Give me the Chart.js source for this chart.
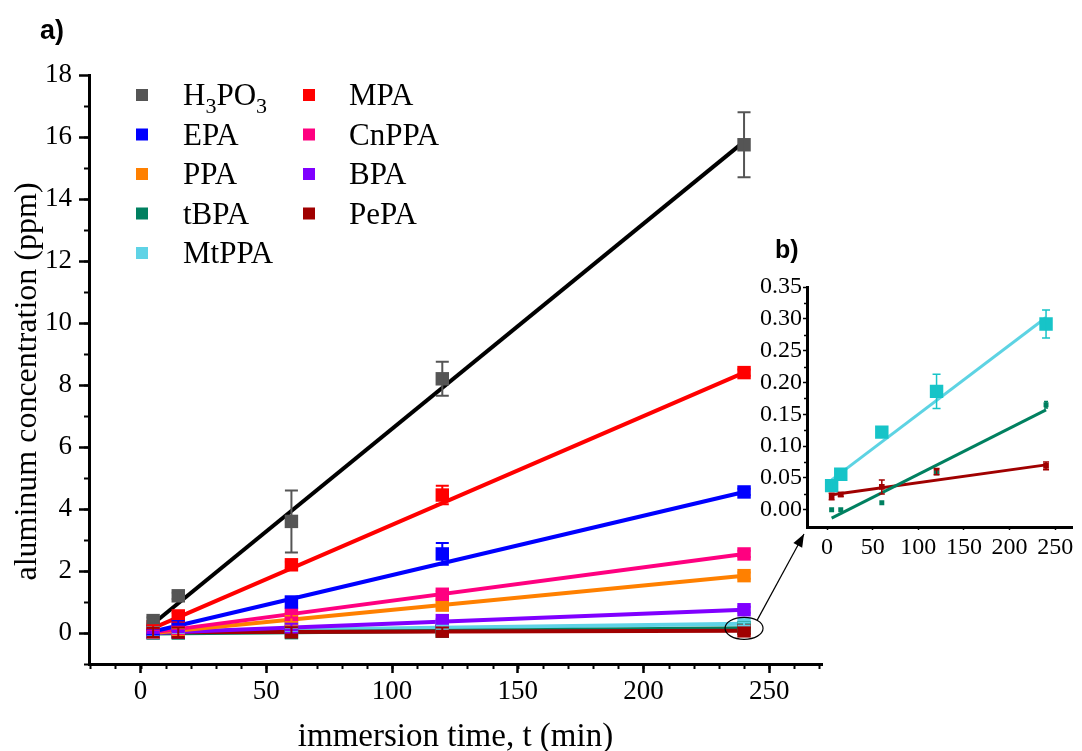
<!DOCTYPE html>
<html><head><meta charset="utf-8">
<script src="https://cdn.jsdelivr.net/npm/chart.js@4/dist/chart.umd.min.js"></script>
<style>
html,body{margin:0;padding:0;background:#fff;}
#wrap{position:relative;width:1082px;height:751px;overflow:hidden;}
#main{position:absolute;left:0;top:0;}
#inset{position:absolute;left:740px;top:225px;}
</style></head><body>
<div id="wrap"><canvas id="main" width="1082" height="751"></canvas><canvas id="inset" width="342" height="345"></canvas></div>
<script>
// ---------------- DATA ----------------
const times = [5, 15, 60, 120, 240];
// legend order: first column top to bottom, then second column
const seriesNames = ['H3PO3', 'EPA', 'PPA', 'tBPA', 'MtPPA', 'MPA', 'CnPPA', 'BPA', 'PePA'];

const valH3PO3 = [0.4, 1.2, 3.6, 8.2, 15.75];
const valMPA   = [0.2, 0.55, 2.2, 4.45, 8.4];
const valEPA   = [0.05, 0.25, 1.0, 2.55, 4.55];
const valCnPPA = [0.05, 0.15, 0.6, 1.25, 2.55];
const valPPA   = [0.03, 0.1, 0.45, 0.9, 1.85];
const valBPA   = [0.02, 0.05, 0.2, 0.4, 0.75];
const valTBPA  = [0.0, 0.0, 0.011, 0.058, 0.165];
const valMtPPA = [0.038, 0.056, 0.122, 0.186, 0.292];
const valPePA  = [0.021, 0.024, 0.036, 0.06, 0.069];

// error bars, panel a)
const errH3PO3 = [0.1, 0.1, 1.0, 0.55, 1.05];
const errMPA   = [0.05, 0.1, 0.1, 0.3, 0.1];
const errEPA   = [0.05, 0.15, 0.15, 0.35, 0.1];
const errCnPPA = [0.02, 0.05, 0.1, 0.1, 0.1];
const errPPA   = [0.02, 0.05, 0.1, 0.1, 0.1];
const errBPA   = [0.02, 0.02, 0.1, 0.05, 0.1];
const errTBPA  = [0, 0, 0, 0, 0];
const errMtPPA = [0.15, 0.05, 0.05, 0.05, 0.05];
const errPePA  = [0.15, 0.15, 0.15, 0.12, 0.1];

// error bars, panel b)
const errMtPPAb = [0.006, 0.005, 0.006, 0.027, 0.022];
const errTBPAb  = [0, 0, 0, 0, 0.005];
const errPePAb  = [0.005, 0.003, 0.011, 0.005, 0.006];

// linear fit lines (value at first and last fit time)
const fitTimes  = [5, 240];
const fitH3PO3 = [0.3, 15.85];
const fitMPA   = [0.16, 8.4];
const fitEPA   = [0.05, 4.55];
const fitCnPPA = [0.02, 2.55];
const fitPPA   = [0.0, 1.85];
const fitBPA   = [0.0, 0.75];
const fitTBPA  = [-0.013, 0.157];
const fitMtPPA = [0.047, 0.302];
const fitPePA  = [0.0235, 0.0706];

// tick labels
const xTicks = [0, 50, 100, 150, 200, 250];
const yTicks = [0, 2, 4, 6, 8, 10, 12, 14, 16, 18];
const insetXTicks = [0, 50, 100, 150, 200, 250];
const insetYTicks = [0, 0.05, 0.10, 0.15, 0.20, 0.25, 0.30, 0.35];
const insetYLabels = ['0.00', '0.05', '0.10', '0.15', '0.20', '0.25', '0.30', '0.35'];

// ---------------- STYLE ----------------
const SERIF = "'Liberation Serif','Times New Roman',serif";
const SANS = "'Liberation Sans',Arial,sans-serif";
Chart.defaults.font.family = SERIF;
Chart.defaults.color = '#000';
const markerColor = {H3PO3:'#555555', MPA:'#ff0000', EPA:'#0000ff', CnPPA:'#ff0080', PPA:'#ff8000', BPA:'#8000ff', tBPA:'#008060', MtPPA:'#5fd3e6', PePA:'#a00000'};
const lineColor   = {H3PO3:'#000000', MPA:'#ff0000', EPA:'#0000ff', CnPPA:'#ff0080', PPA:'#ff8000', BPA:'#8000ff', tBPA:'#008060', MtPPA:'#5fd3e6', PePA:'#a00000'};
const insetMarkerColor = {tBPA:'#008060', MtPPA:'#17c4c8', PePA:'#a00000'};
const insetLineColor = {tBPA:'#008060', MtPPA:'#5dd3e3', PePA:'#a00000'};
const drawRank = {MtPPA:0, tBPA:1, PePA:2, BPA:3, PPA:4, CnPPA:5, EPA:6, MPA:7, H3PO3:8};

const vals = {H3PO3:valH3PO3, MPA:valMPA, EPA:valEPA, CnPPA:valCnPPA, PPA:valPPA, BPA:valBPA, tBPA:valTBPA, MtPPA:valMtPPA, PePA:valPePA};
const errs = {H3PO3:errH3PO3, MPA:errMPA, EPA:errEPA, CnPPA:errCnPPA, PPA:errPPA, BPA:errBPA, tBPA:errTBPA, MtPPA:errMtPPA, PePA:errPePA};
const fits = {H3PO3:fitH3PO3, MPA:fitMPA, EPA:fitEPA, CnPPA:fitCnPPA, PPA:fitPPA, BPA:fitBPA, tBPA:fitTBPA, MtPPA:fitMtPPA, PePA:fitPePA};

// ---------------- PLUGINS ----------------
const minorTicks = {
  id: 'minorTicks',
  afterDraw(chart, args, opts) {
    const ctx = chart.ctx, ca = chart.chartArea;
    ctx.save();
    ctx.strokeStyle = '#000';
    (opts.list || []).forEach(m => {
      const s = chart.scales[m.axis];
      ctx.lineWidth = m.width;
      const n = Math.round((m.to - m.from) / m.step);
      for (let k = 0; k <= n; k++) {
        const v = m.from + k * m.step;
        const p = Math.round(s.getPixelForValue(v)) + 0.5;
        ctx.beginPath();
        if (m.axis === 'x') { ctx.moveTo(p, ca.bottom); ctx.lineTo(p, ca.bottom + m.len); }
        else { ctx.moveTo(ca.left, p); ctx.lineTo(ca.left - m.len, p); }
        ctx.stroke();
      }
    });
    ctx.restore();
  }
};

const errorBars = {
  id: 'errorBars',
  afterDatasetsDraw(chart) {
    const ctx = chart.ctx;
    const xs = chart.scales.x, ys = chart.scales.y;
    ctx.save();
    chart.data.datasets.forEach(ds => {
      if (!ds.errorBars) return;
      ctx.strokeStyle = ds.errorColor || ds.backgroundColor;
      ctx.lineWidth = ds.errorWidth || 2;
      ds.data.forEach((pt, i) => {
        const e = ds.errorBars[i];
        if (!e) return;
        const px = xs.getPixelForValue(pt.x);
        const y1 = ys.getPixelForValue(pt.y + e), y2 = ys.getPixelForValue(pt.y - e);
        const c = ds.capHalf || 6;
        ctx.beginPath();
        ctx.moveTo(px, y1); ctx.lineTo(px, y2);
        ctx.moveTo(px - c, y1); ctx.lineTo(px + c, y1);
        ctx.moveTo(px - c, y2); ctx.lineTo(px + c, y2);
        ctx.stroke();
      });
    });
    ctx.restore();
  }
};

function drawRich(ctx, text, x, y, size) {
  // digits drawn as subscripts
  let cx = x;
  const runs = text.match(/(\d+|\D+)/g);
  runs.forEach(r => {
    const sub = /^\d+$/.test(r);
    const fs = sub ? Math.round(size * 0.72) : size;
    ctx.font = fs + 'px ' + SERIF;
    ctx.fillText(r, cx, sub ? y + size * 0.24 : y);
    cx += ctx.measureText(r).width;
  });
}

const annotations = {
  id: 'annotations',
  afterDraw(chart) {
    const ctx = chart.ctx;
    ctx.save();
    // panel labels
    ctx.fillStyle = '#000';
    ctx.textBaseline = 'alphabetic';
    ctx.font = 'bold 27px ' + SANS;
    ctx.fillText('a)', 40, 39);
    ctx.font = 'bold 25px ' + SANS;
    ctx.fillText('b)', 775, 258);
    // legend (two columns: five entries, then four)
    const rowY0 = 95, rowDY = 39.5, colMarker = [142, 309], colText = [183, 349], size = 31;
    seriesNames.forEach((name, i) => {
      const c = i < 5 ? 0 : 1, r = i < 5 ? i : i - 5;
      const y = rowY0 + r * rowDY;
      ctx.fillStyle = markerColor[name];
      ctx.fillRect(colMarker[c] - 6, y - 6, 12, 12);
      ctx.fillStyle = '#000';
      drawRich(ctx, name, colText[c], y + size * 0.33, size);
    });
    // ellipse around the low series at t = 240
    const xs = chart.scales.x, ys = chart.scales.y;
    const cx = xs.getPixelForValue(240), cy = ys.getPixelForValue(0.15);
    ctx.strokeStyle = '#000';
    ctx.lineWidth = 1.2;
    ctx.beginPath();
    ctx.ellipse(cx, cy, 19, 11, 0, 0, Math.PI * 2);
    ctx.stroke();
    // arrow to inset
    const sx = cx + 13, sy = cy - 8, tx = 804, ty = 534;
    ctx.beginPath(); ctx.moveTo(sx, sy); ctx.lineTo(tx, ty); ctx.stroke();
    const ang = Math.atan2(ty - sy, tx - sx), L = 13, W = 5;
    ctx.beginPath();
    ctx.moveTo(tx, ty);
    ctx.lineTo(tx - L * Math.cos(ang) + W * Math.sin(ang), ty - L * Math.sin(ang) - W * Math.cos(ang));
    ctx.lineTo(tx - L * Math.cos(ang) - W * Math.sin(ang), ty - L * Math.sin(ang) + W * Math.cos(ang));
    ctx.closePath();
    ctx.fillStyle = '#000';
    ctx.fill();
    ctx.restore();
  }
};

// ---------------- MAIN CHART ----------------
const mainDatasets = [];
seriesNames.forEach(name => {
  const rank = drawRank[name];
  mainDatasets.push({
    type: 'line', label: name + ' fit',
    data: fitTimes.map((t, i) => ({x: t, y: fits[name][i]})),
    borderColor: lineColor[name], borderWidth: 4, pointRadius: 0, fill: false,
    order: 100 - rank
  });
  mainDatasets.push({
    type: 'scatter', label: name,
    data: times.map((t, i) => ({x: t, y: vals[name][i]})),
    pointStyle: 'rect', pointRadius: 9.5, backgroundColor: markerColor[name], borderWidth: 0,
    errorBars: errs[name], capHalf: 6.5, errorWidth: 2,
    order: 50 - rank
  });
});

new Chart(document.getElementById('main'), {
  type: 'scatter',
  data: {datasets: mainDatasets},
  options: {
    responsive: false, animation: false,
    layout: {padding: {top: 75, right: 260, left: 0, bottom: 0}},
    plugins: {
      legend: {display: false}, tooltip: {enabled: false},
      minorTicks: {list: [
        {axis: 'x', from: -20, to: 270, step: 10, len: 5, width: 2},
        {axis: 'y', from: -1, to: 17, step: 1, len: 5, width: 2}
      ]}
    },
    scales: {
      x: {
        type: 'linear', min: -20.5, max: 271,
        border: {display: true, color: '#000', width: 3},
        grid: {display: true, drawOnChartArea: false, drawTicks: true, tickLength: 9, tickWidth: 2.5, tickColor: '#000', color: '#000'},
        afterBuildTicks: s => { s.ticks = xTicks.map(v => ({value: v})); },
        ticks: {color: '#000', font: {family: SERIF, size: 27}, padding: 3, maxRotation: 0, autoSkip: false, callback: (v, i) => String(xTicks[i])},
        title: {display: true, text: 'immersion time, t (min)', color: '#000', font: {family: SERIF, size: 33, lineHeight: 0.85}, padding: {top: 0, bottom: 0}},
        afterFit: s => { s.height = 87; }
      },
      y: {
        type: 'linear', min: -1, max: 18,
        border: {display: true, color: '#000', width: 3},
        grid: {display: true, drawOnChartArea: false, drawTicks: true, tickLength: 10, tickWidth: 2.5, tickColor: '#000', color: '#000'},
        afterBuildTicks: s => { s.ticks = yTicks.map(v => ({value: v})); },
        ticks: {color: '#000', font: {family: SERIF, size: 27}, padding: 7, autoSkip: false, callback: (v, i) => String(yTicks[i])},
        title: {display: true, text: 'aluminum concentration (ppm)\u00a0\u00a0\u00a0', color: '#000', font: {family: SERIF, size: 32}, padding: {top: 8, bottom: 0}},
        afterFit: s => { s.width = 89; }
      }
    }
  },
  plugins: [minorTicks, errorBars, annotations]
});

// ---------------- INSET CHART ----------------
const insetSeries = ['MtPPA', 'tBPA', 'PePA'];
const insetErr = {MtPPA: errMtPPAb, tBPA: errTBPAb, PePA: errPePAb};
const insetRadius = {MtPPA: 9.5, tBPA: 3.5, PePA: 4};
const insetCap = {MtPPA: 4, tBPA: 2, PePA: 3};
const insetDatasets = [];
insetSeries.forEach((name, k) => {
  insetDatasets.push({
    type: 'line', label: name + ' fit',
    data: fitTimes.map((t, i) => ({x: t, y: fits[name][i]})),
    borderColor: insetLineColor[name], borderWidth: 3, pointRadius: 0, fill: false,
    order: 20 + k
  });
  insetDatasets.push({
    type: 'scatter', label: name,
    data: times.map((t, i) => ({x: t, y: vals[name][i]})),
    pointStyle: 'rect', pointRadius: insetRadius[name], backgroundColor: insetMarkerColor[name], borderWidth: 0,
    errorBars: insetErr[name], capHalf: insetCap[name], errorWidth: 1.5,
    order: 10 + k
  });
});

new Chart(document.getElementById('inset'), {
  type: 'scatter',
  data: {datasets: insetDatasets},
  options: {
    responsive: false, animation: false,
    layout: {padding: {top: 62, right: 2, left: 0, bottom: 0}},
    plugins: {
      legend: {display: false}, tooltip: {enabled: false},
      minorTicks: {list: [
        {axis: 'y', from: 0.025, to: 0.325, step: 0.05, len: 3, width: 1.5}
      ]}
    },
    scales: {
      x: {
        type: 'linear', min: -22, max: 269,
        border: {display: true, color: '#000', width: 3},
        grid: {display: true, drawOnChartArea: false, drawTicks: true, tickLength: 3, tickWidth: 1.5, tickColor: '#000', color: '#000'},
        afterBuildTicks: s => { s.ticks = insetXTicks.map(v => ({value: v})); },
        ticks: {color: '#000', font: {family: SERIF, size: 24}, padding: 3, maxRotation: 0, autoSkip: false, callback: (v, i) => String(insetXTicks[i])},
        afterFit: s => { s.height = 43; }
      },
      y: {
        type: 'linear', min: -0.027, max: 0.35,
        border: {display: true, color: '#000', width: 3},
        grid: {display: true, drawOnChartArea: false, drawTicks: true, tickLength: 4, tickWidth: 1.5, tickColor: '#000', color: '#000'},
        afterBuildTicks: s => { s.ticks = insetYTicks.map(v => ({value: v})); },
        ticks: {color: '#000', font: {family: SERIF, size: 24}, padding: 1, autoSkip: false, callback: (v, i) => insetYLabels[i]},
        afterFit: s => { s.width = 67; }
      }
    }
  },
  plugins: [minorTicks, errorBars]
});
</script>
</body></html>
